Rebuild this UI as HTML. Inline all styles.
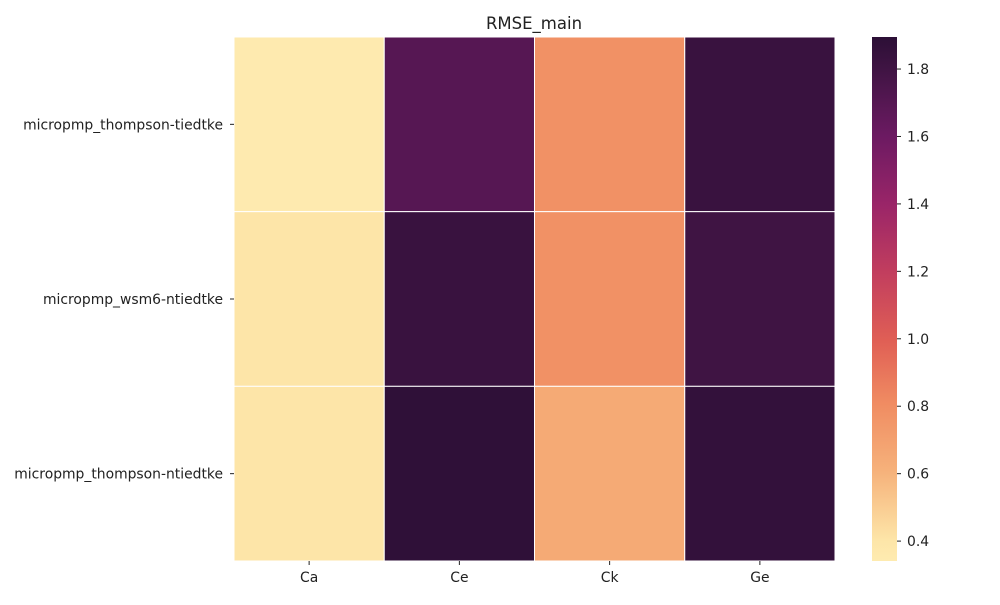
<!DOCTYPE html>
<html><head><meta charset="utf-8"><style>
body{margin:0;background:#fff;}
svg text{font-family:"DejaVu Sans","Liberation Sans",sans-serif;fill:#222;}
</style></head><body>
<svg id="chart" width="1000" height="600" xmlns="http://www.w3.org/2000/svg">
<defs>
<linearGradient id="cbg" x1="0" y1="1" x2="0" y2="0">
<stop offset="0" stop-color="#feebb0"/>
<stop offset="0.04" stop-color="#fde5a8"/>
<stop offset="0.17" stop-color="#f6b27b"/>
<stop offset="0.30" stop-color="#f08c62"/>
<stop offset="0.42" stop-color="#e05f55"/>
<stop offset="0.55" stop-color="#c23e5e"/>
<stop offset="0.68" stop-color="#9a2568"/>
<stop offset="0.81" stop-color="#6c1a62"/>
<stop offset="0.94" stop-color="#3f1443"/>
<stop offset="1" stop-color="#2c0f36"/>
</linearGradient>
</defs>
<text x="534" y="29" font-size="16.5" text-anchor="middle">RMSE_main</text>
<g id="cells"></g>
<g id="xticks"></g>
<g id="yticks"></g>
<rect x="872" y="37" width="25" height="524" fill="url(#cbg)"/>
<g id="cticks"></g>
</svg>
<script>
const cols = ["Ca","Ce","Ck","Ge"];
const rows = ["micropmp_thompson-tiedtke","micropmp_wsm6-ntiedtke","micropmp_thompson-ntiedtke"];
const rowTop = [0.35, 1.70, 0.78, 1.83];
const rowMid = [0.40, 1.83, 0.78, 1.80];
const rowBot = [0.40, 1.88, 0.65, 1.86];
const values = [rowTop, rowMid, rowBot];
const cbTicks = [0.4,0.6,0.8,1.0,1.2,1.4,1.6,1.8];
const vmin = 0.341, vmax = 1.895;

const stops=[[0,"#feebb0"],[0.04,"#fde5a8"],[0.17,"#f6b27b"],[0.30,"#f08c62"],[0.42,"#e05f55"],[0.55,"#c23e5e"],[0.68,"#9a2568"],[0.81,"#6c1a62"],[0.94,"#3f1443"],[1,"#2c0f36"]];
function hex(h){return [1,3,5].map(i=>parseInt(h.substr(i,2),16));}
function color(v){
  let t=Math.max(0,Math.min(1,(v-vmin)/(vmax-vmin)));
  for(let i=1;i<stops.length;i++){ if(t<=stops[i][0]){
    const a=hex(stops[i-1][1]),b=hex(stops[i][1]),f=(t-stops[i-1][0])/(stops[i][0]-stops[i-1][0]);
    return "rgb("+a.map((x,k)=>Math.round(x+(b[k]-x)*f)).join(",")+")";}}
  return stops[stops.length-1][1];
}
const X0=234,X1=835,Y0=37,Y1=561;
const cw=(X1-X0)/cols.length, rh=(Y1-Y0)/rows.length;
const xPos=i=>X0+i*cw, yPos=j=>Y0+j*rh;
const cbY=v=>Y1-(v-vmin)/(vmax-vmin)*(Y1-Y0);
const NS="http://www.w3.org/2000/svg";
function mk(tag,attrs,parent){const e=document.createElementNS(NS,tag);for(const k in attrs)e.setAttribute(k,attrs[k]);parent.appendChild(e);return e;}
const gc=document.getElementById("cells");
values.forEach((r,j)=>r.forEach((v,i)=>{
  const e=mk("rect",{x:xPos(i),y:yPos(j),width:cw,height:rh,fill:color(v),stroke:"#fff","stroke-width":1},gc);
  
  
}));
const gx=document.getElementById("xticks");
cols.forEach((c,i)=>{
  const cx=xPos(i)+cw/2;
  mk("line",{x1:cx,x2:cx,y1:Y1,y2:Y1+4,stroke:"#222"},gx);
  const t=mk("text",{x:cx,y:Y1+21,"font-size":13.9,"text-anchor":"middle"},gx);
  t.textContent=c;
  
  
});
const gy=document.getElementById("yticks");
rows.forEach((r,j)=>{
  const cy=yPos(j)+rh/2;
  mk("line",{x1:X0-4,x2:X0,y1:cy,y2:cy,stroke:"#222"},gy);
  const t=mk("text",{x:X0-11,y:cy+5,"font-size":13.9,"text-anchor":"end"},gy);
  t.textContent=r;
  
  
});
const gt=document.getElementById("cticks");
cbTicks.forEach(v=>{
  const y=cbY(v);
  mk("line",{x1:897,x2:901,y1:y,y2:y,stroke:"#222"},gt);
  const t=mk("text",{x:907,y:y+5,"font-size":13.9},gt);
  t.textContent=v.toFixed(1);
  
  
});
</script>
</body></html>
